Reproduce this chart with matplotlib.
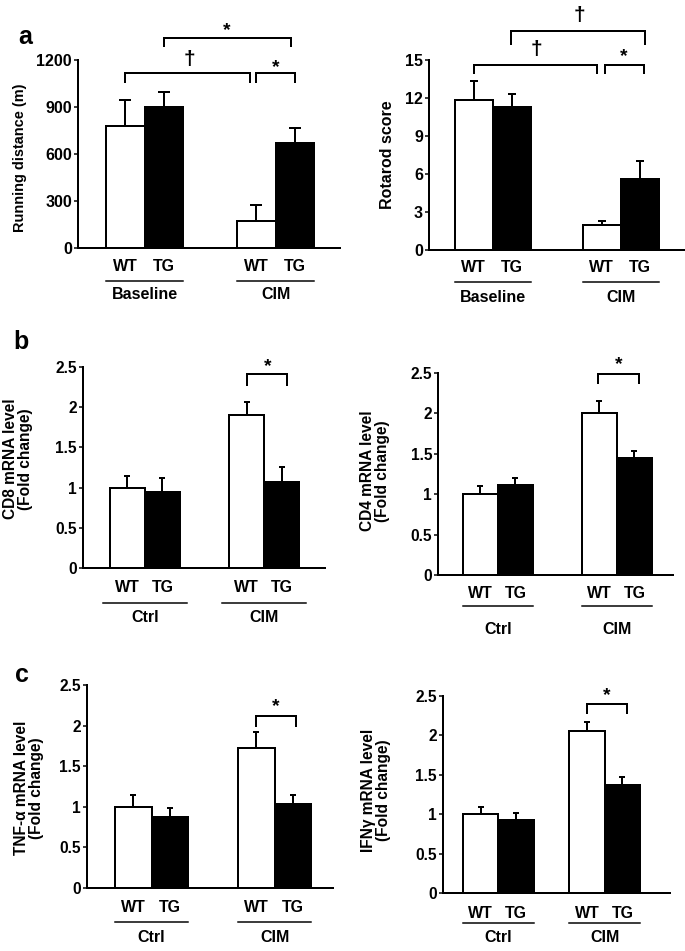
import matplotlib
matplotlib.use("Agg")
import matplotlib.pyplot as plt
import matplotlib.transforms as mtransforms

plt.rcParams['font.family'] = ['Liberation Sans', 'DejaVu Sans']
plt.rcParams['font.weight'] = 'bold'

# ---------------- data ----------------
genotypes = ["WT", "TG"]
groups_a = ["Baseline", "CIM"]
groups_bc = ["Ctrl", "CIM"]

running_mean = [779, 898, 170, 669]
running_err = [166, 96, 104, 100]
rotarod_mean = [11.85, 11.25, 1.95, 5.6]
rotarod_err = [1.5, 1.05, 0.35, 1.45]
cd8_mean = [1.0, 0.94, 1.9, 1.07]
cd8_err = [0.15, 0.18, 0.17, 0.18]
cd4_mean = [1.0, 1.12, 2.0, 1.45]
cd4_err = [0.1, 0.08, 0.15, 0.09]
tnf_mean = [1.0, 0.88, 1.72, 1.03]
tnf_err = [0.15, 0.1, 0.2, 0.12]
ifng_mean = [1.0, 0.93, 2.06, 1.37]
ifng_err = [0.09, 0.09, 0.11, 0.1]

yticks_run = [0, 300, 600, 900, 1200]
yticks_rot = [0, 3, 6, 9, 12, 15]
yticks_fold = [0, 0.5, 1, 1.5, 2, 2.5]
yticklabels_fold = ["0", "0.5", "1", "1.5", "2", "2.5"]

W, H = 685, 951
fig = plt.figure(figsize=(W / 72, H / 72), dpi=72)

LAB_FS = 16


def box(l, t, r, b):
    return [l / W, 1 - b / H, (r - l) / W, (b - t) / H]


def panel(bx, ymax, yticks, yticklabels, means, errs, groups, off1, off2, xr,
          capsize, offs, upad=0.0, tick_fs=15.5):
    ax = fig.add_axes(box(*bx))
    ax.set_xlim(0, xr)
    ax.set_ylim(0, ymax)
    xs = [off1 + 0.5, off1 + 1.5, off2 + 0.5, off2 + 1.5]
    colors = ["white", "black", "white", "black"]
    ax.bar(xs, means, width=1.0, color=colors, edgecolor="black",
           linewidth=2, zorder=2, clip_on=False)
    ax.errorbar(xs, means, yerr=[[0] * 4, errs], fmt="none", ecolor="black",
                elinewidth=2, capsize=capsize, capthick=2, zorder=3, clip_on=False)
    for s in ["top", "right"]:
        ax.spines[s].set_visible(False)
    ax.spines["left"].set_linewidth(2)
    ax.spines["bottom"].set_linewidth(2)
    ax.set_xticks([])
    ax.set_yticks(yticks)
    ax.set_yticklabels(yticklabels, fontsize=tick_fs, fontweight="bold")
    ax.tick_params(axis="y", length=4, width=1.5, pad=2)
    ax.patch.set_alpha(0)
    # x labels
    d1, d2, d3 = offs
    for x, lab in zip(xs, genotypes * 2):
        ax.annotate(lab, xy=(x, 0), xycoords=("data", "axes fraction"),
                    xytext=(0, -d1), textcoords="offset points",
                    ha="center", va="center", fontsize=LAB_FS, fontweight="bold")
    ul = mtransforms.blended_transform_factory(ax.transData, ax.transAxes) + \
        mtransforms.ScaledTranslation(0, -d2 / 72, fig.dpi_scale_trans)
    for start, g in zip([off1, off2], groups):
        ax.plot([start - upad, start + 2 + upad], [0, 0], color="black",
                linewidth=1.5, transform=ul, clip_on=False)
        ax.annotate(g, xy=(start + 1, 0), xycoords=("data", "axes fraction"),
                    xytext=(0, -d3), textcoords="offset points",
                    ha="center", va="center", fontsize=LAB_FS, fontweight="bold")
    return ax


def bracket(ax, x1, x2, y, yleg, sym, sx, sy, fs=19):
    ax.plot([x1, x1, x2, x2], [yleg, y, y, yleg], color="black", linewidth=2,
            clip_on=False, solid_joinstyle="miter")
    ax.text(sx, sy, sym, ha="center", va="center", fontsize=fs,
            fontweight="bold", clip_on=False)


DAG = "\u2020"

# ---------------- panel a ----------------
ax1 = panel((78, 60, 340, 248), 1200, yticks_run, [str(v) for v in yticks_run],
            running_mean, running_err, groups_a, 0.73, 4.13, 6.8, 6,
            (19, 33, 47), tick_fs=16)
bracket(ax1, 1.23, 4.47, 1117, 1060, DAG, 2.9, 1205, fs=21)
bracket(ax1, 4.62, 5.64, 1117, 1060, "*", 5.13, 1150)
bracket(ax1, 2.23, 5.53, 1340, 1290, "*", 3.85, 1385)
fig.text(20 / W, 1 - 158 / H, "Running distance (m)", rotation=90, ha="center",
         va="center", fontsize=14.5, fontweight="bold")

ax2 = panel((429, 60, 685, 250), 15, yticks_rot, [str(v) for v in yticks_rot],
            rotarod_mean, rotarod_err, groups_a, 0.68, 4.05, 6.74, 4,
            (18, 32, 48), tick_fs=16)
bracket(ax2, 1.18, 4.42, 14.6, 14.0, DAG, 2.84, 15.8, fs=21)
bracket(ax2, 4.63, 5.66, 14.6, 14.0, "*", 5.13, 15.3)
bracket(ax2, 2.16, 5.68, 17.3, 16.3, DAG, 3.97, 18.5, fs=21)
fig.text(388 / W, 1 - 155 / H, "Rotarod score", rotation=90, ha="center",
         va="center", fontsize=16, fontweight="bold")

# ---------------- panel b ----------------
ax3 = panel((83, 367, 325, 568), 2.5, yticks_fold, yticklabels_fold,
            cd8_mean, cd8_err, groups_bc, 0.77, 4.17, 6.91, 3,
            (19, 35, 50), upad=0.2)
bracket(ax3, 4.69, 5.83, 2.41, 2.28, "*", 5.26, 2.5)
fig.text(18 / W, 1 - 459 / H, "CD8 mRNA level\n(Fold change)", rotation=90,
         ha="center", va="center", fontsize=15.5, fontweight="bold", linespacing=1.0)

ax4 = panel((438, 373, 673, 575), 2.5, yticks_fold, yticklabels_fold,
            cd4_mean, cd4_err, groups_bc, 0.71, 4.11, 6.71, 3,
            (18, 31, 55))
bracket(ax4, 4.57, 5.74, 2.49, 2.38, "*", 5.15, 2.6)
fig.text(375 / W, 1 - 471 / H, "CD4 mRNA level\n(Fold change)", rotation=90,
         ha="center", va="center", fontsize=15.5, fontweight="bold", linespacing=1.0)

# ---------------- panel c ----------------
ax5 = panel((87, 685, 333, 888), 2.5, yticks_fold, yticklabels_fold,
            tnf_mean, tnf_err, groups_bc, 0.77, 4.14, 6.74, 3,
            (20, 34, 50))
bracket(ax5, 4.63, 5.73, 2.12, 2.0, "*", 5.18, 2.24)
fig.text(29 / W, 1 - 788 / H, "TNF-\u03b1 mRNA level\n(Fold change)", rotation=90,
         ha="center", va="center", fontsize=15.5, fontweight="bold", linespacing=1.0)

ax6 = panel((443, 696, 670, 893), 2.5, yticks_fold, yticklabels_fold,
            ifng_mean, ifng_err, groups_bc, 0.56, 3.55, 6.39, 3,
            (20, 30, 45))
bracket(ax6, 4.06, 5.18, 2.40, 2.29, "*", 4.62, 2.5)
fig.text(376 / W, 1 - 790 / H, "IFN\u03b3 mRNA level\n(Fold change)", rotation=90,
         ha="center", va="center", fontsize=15.5, fontweight="bold", linespacing=1.0)

# panel letters
fig.text(25 / W, 1 - 37 / H, "a", ha="center", va="center", fontsize=25, fontweight="bold")
fig.text(21 / W, 1 - 342 / H, "b", ha="center", va="center", fontsize=25, fontweight="bold")
fig.text(22 / W, 1 - 675 / H, "c", ha="center", va="center", fontsize=25, fontweight="bold")

fig.savefig("out.png", dpi=72, facecolor="white")
